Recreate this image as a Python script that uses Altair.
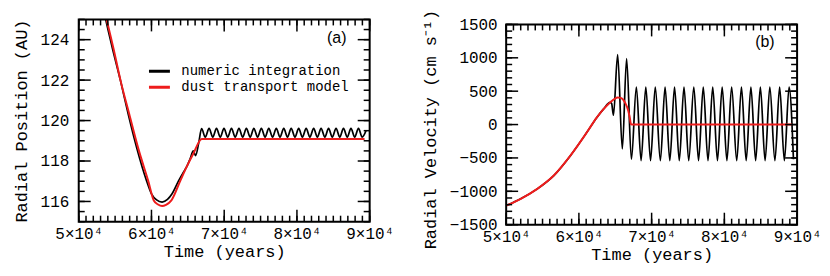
import altair as alt
import pandas as pd

FONT = "Liberation Mono"

series_names = ["numeric integration", "dust transport model"]
series_colors = ["black", "#ee1c1c"]
panel_labels = ["(a)", "(b)"]

# ---------------- Panel (a): radial position (AU) ----------------
a_black_t = [52500, 53000, 53700, 54610, 55750, 56800, 57950, 59320, 60000, 60700,
             61460, 62200, 62830, 63740, 64400, 64850, 65300, 65760, 66070, 66500,
             66890,
             67400, 67920, 68430, 68940, 69460, 69970, 70480, 71000, 71510, 72030,
             72540, 73050, 73570, 74080, 74590, 75110, 75620, 76130, 76650, 77160,
             77670, 78190, 78700, 79210, 79730, 80240, 80750, 81270, 81780, 82300,
             82810, 83320, 83840, 84350, 84860, 85380, 85890, 86400, 86920, 87430,
             87940, 88460, 88970,
             89500]
a_black_r = [127.0, 126.2, 125.0, 123.6, 121.96, 120.32, 118.68, 117.03, 116.38, 116.08,
             115.97, 116.1, 116.38, 117.03, 117.45, 117.72, 118.1, 118.5, 118.27, 118.9,
             119.6,
             119.18, 119.62, 119.18, 119.62, 119.18, 119.62, 119.18, 119.62, 119.18, 119.62,
             119.18, 119.62, 119.18, 119.62, 119.18, 119.62, 119.18, 119.62, 119.18, 119.62,
             119.18, 119.62, 119.18, 119.62, 119.18, 119.62, 119.18, 119.62, 119.18, 119.62,
             119.18, 119.62, 119.18, 119.62, 119.18, 119.62, 119.18, 119.62, 119.18, 119.62,
             119.18, 119.62, 119.18,
             119.5]
a_red_t = [52500, 53000, 53840, 54750, 55800, 56940, 58200, 59540, 60320, 60900,
           61460, 62000, 62740, 63970, 64850, 65800, 66920, 89300]
a_red_r = [127.3, 126.4, 125.0, 123.6, 121.9, 120.32, 118.6, 117.03, 116.05, 115.85,
           115.77, 115.83, 116.05, 117.03, 117.72, 118.4, 119.09, 119.09]

# ---------------- Panel (b): radial velocity (cm/s) ----------------
b_black_t = [50000, 52000, 54280, 56550, 58830, 61100, 62470, 63380, 64290, 64500,
             64750, 65330, 65970, 66560, 67220,
             67900, 68550, 69200, 69850, 70500, 71200, 71850, 72500, 73150, 73800,
             74450, 75100, 75800, 76450, 77100, 77750, 78400, 79050, 79700, 80350,
             81000, 81700, 82350, 83000, 83650, 84300, 84950, 85600, 86250, 86950,
             87600, 88250, 88900,
             89500]
b_black_v = [-1215, -1112, -963, -764, -466, -116, 107, 231, 331, 315,
             140, 1050, -366, 990, -520,
             560, -540, 560, -540, 560, -540, 560, -540, 560, -540,
             560, -540, 560, -540, 560, -540, 560, -540, 560, -540,
             560, -540, 560, -540, 560, -540, 560, -540, 560, -540,
             560, -540, 560,
             -520]
b_red_t = [50000, 52000, 54280, 56550, 58830, 61100, 62470, 63380, 64290, 64900,
           65350, 65750, 66340, 66790, 67000, 67160, 67400, 89300]
b_red_v = [-1215, -1112, -963, -764, -466, -116, 107, 231, 331, 385,
           404, 400, 331, 206, 100, 5, 0, 0]

# ---------------- Axes / ticks ----------------
x_domain = [50000, 90000]
x_major = [50000, 60000, 70000, 80000, 90000]
x_minor = list(range(50000, 90001, 1000))
a_y_domain = [115, 125]
a_y_major = [116, 118, 120, 122, 124]
a_y_minor = [115 + 0.5 * i for i in range(21)]
b_y_frame = [-1500, 1500]
b_y_domain = [-1500, 1575]
b_y_major = [-1500, -1000, -500, 0, 500, 1000, 1500]
b_y_minor = list(range(-1500, 1501, 100))

W = 292
HA = 203
HB = 206
MAJ = 12
MIN = 6
TICK_W = 1.5

xaxis = alt.Axis(values=x_major, title="Time (years)",
                 labelExpr="format(datum.value / 10000, 'd') + '×10⁴'",
                 ticks=False, domain=False, grid=False, labelPadding=4,
                 titlePadding=2, labelFlush=False, labelOverlap=False)
X = alt.X("t:Q", scale=alt.Scale(domain=x_domain, nice=False, zero=False), axis=xaxis)


def panel(y_field, y_domain, y_frame, y_axis, y_major, y_minor, black_df, red_df,
          height, legend, label, label_pos):
    Y = alt.Y(f"{y_field}:Q", scale=alt.Scale(domain=y_domain, nice=False, zero=False),
              axis=y_axis)
    color = alt.Color("s:N", scale=alt.Scale(domain=series_names, range=series_colors),
                      legend=legend)
    y_per_px = (y_domain[1] - y_domain[0]) / height
    x_per_px = (x_domain[1] - x_domain[0]) / W
    hx = TICK_W / 2 * x_per_px
    hy = TICK_W / 2 * y_per_px
    layers = []
    layers.append(alt.Chart(black_df).mark_line(interpolate="monotone", clip=True,
                                                strokeWidth=1.7)
                  .encode(x=X, y=Y, color=color))
    layers.append(alt.Chart(red_df).mark_line(interpolate="monotone", clip=True,
                                              strokeWidth=2)
                  .encode(x=X, y=Y, color=color))
    # frame
    frame = pd.DataFrame({"t": [x_domain[0]], "t2": [x_domain[1]],
                          y_field: [y_frame[0]], "y2": [y_frame[1]]})
    layers.append(alt.Chart(frame).mark_rect(
        filled=False, color="black", strokeWidth=2).encode(
        x=X, x2="t2:Q", y=Y, y2="y2:Q"))
    # inward ticks as thin filled rectangles (sizes converted from pixels)
    rows = []
    for vals, size in ((x_minor, MIN), (x_major, MAJ)):
        for v in vals:
            rows.append({"t": v - hx, "t2": v + hx, y_field: y_frame[0],
                         "y2": y_frame[0] + size * y_per_px})
            rows.append({"t": v - hx, "t2": v + hx, y_field: y_frame[1],
                         "y2": y_frame[1] - size * y_per_px})
    for vals, size in ((y_minor, MIN), (y_major, MAJ)):
        for v in vals:
            rows.append({"t": x_domain[0], "t2": x_domain[0] + size * x_per_px,
                         y_field: v - hy, "y2": v + hy})
            rows.append({"t": x_domain[1] - size * x_per_px, "t2": x_domain[1],
                         y_field: v - hy, "y2": v + hy})
    layers.append(alt.Chart(pd.DataFrame(rows)).mark_rect(color="black")
                  .encode(x=X, x2="t2:Q", y=Y, y2="y2:Q"))
    lab = pd.DataFrame({"t": [label_pos[0]], y_field: [label_pos[1]], "lab": [label]})
    layers.append(alt.Chart(lab).mark_text(
        font="Liberation Sans", fontSize=16, color="black", align="center",
        baseline="middle").encode(x=X, y=Y, text="lab:N"))
    return alt.layer(*layers).properties(width=W, height=height)


def series_df(t, v, field, name):
    return pd.DataFrame({"t": t, field: v, "s": name})


legend_a = alt.Legend(orient="none", legendX=69, legendY=44, title=None,
                      symbolType="stroke", symbolSize=441, symbolStrokeWidth=3,
                      labelFont=FONT, labelFontSize=14, labelColor="black",
                      labelOffset=10, labelLimit=400, rowPadding=0, clipHeight=16,
                      padding=0)

ya_axis = alt.Axis(values=a_y_major, title="Radial Position (AU)", format="d",
                   ticks=False, domain=False, grid=False, labelPadding=10, titlePadding=10,
                   labelOverlap=False)
yb_axis = alt.Axis(values=b_y_major, title="Radial Velocity (cm s⁻¹)", format="d",
                   ticks=False, domain=False, grid=False, labelPadding=9, titlePadding=10,
                   titleY=110, labelOverlap=False)

chart_a = panel("r", a_y_domain, a_y_domain, ya_axis, a_y_major, a_y_minor,
                series_df(a_black_t, a_black_r, "r", series_names[0]),
                series_df(a_red_t, a_red_r, "r", series_names[1]),
                HA, legend_a, panel_labels[0], (85480, 124.09))
chart_b = panel("v", b_y_domain, b_y_frame, yb_axis, b_y_major, b_y_minor,
                series_df(b_black_t, b_black_v, "v", series_names[0]),
                series_df(b_red_t, b_red_v, "v", series_names[1]),
                HB, None, panel_labels[1], (85575, 1232))

chart = (alt.hconcat(chart_a, chart_b, spacing=137, bounds="flush")
         .resolve_scale(color="independent")
         .properties(padding={"left": 4, "top": 0, "right": 0, "bottom": 2})
         .configure_view(stroke=None)
         .configure_axis(labelFont=FONT, labelFontSize=16, titleFont=FONT,
                         titleFontSize=17, titleFontWeight="normal",
                         labelColor="black", titleColor="black", labelOverlap=False))

chart.save("out.html", embed_options={"renderer": "svg", "actions": False})
